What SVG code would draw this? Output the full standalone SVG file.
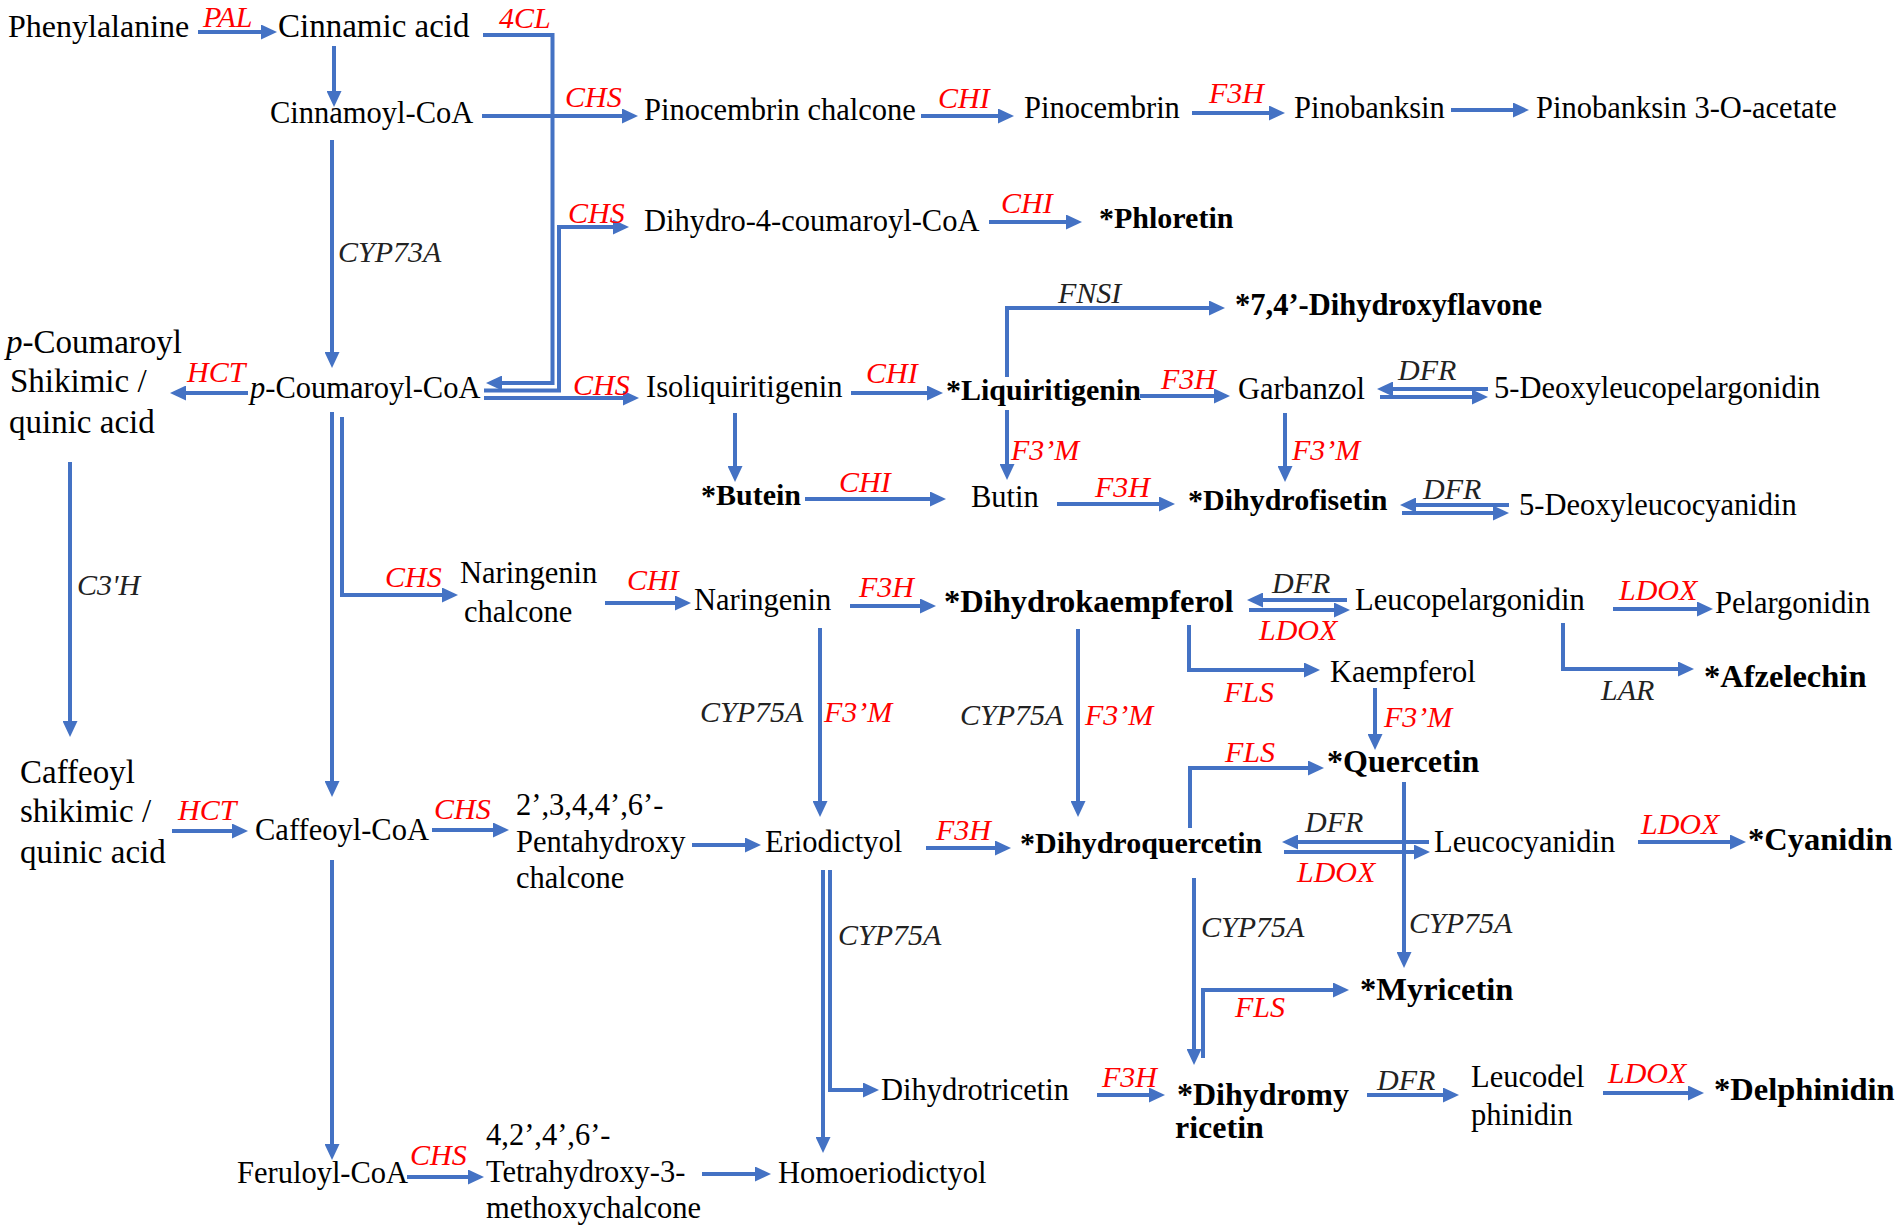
<svg xmlns="http://www.w3.org/2000/svg" width="1902" height="1230" viewBox="0 0 1902 1230">
<style>
text{font-family:"Liberation Serif","Times New Roman",serif;font-size:30.5px;fill:#000}
.b{font-weight:bold;font-size:30px}
.B{font-weight:bold;font-size:32.5px}
.L{font-size:33px}
.e{font-style:italic;font-size:30px}
.r{fill:#FF0000}
.k{fill:#222}
.c{fill:none;stroke:#4472C4;stroke-width:4;marker-end:url(#ah)}
</style>
<defs>
<marker id="ah" viewBox="0 0 16 15" refX="8" refY="7.5" markerWidth="16" markerHeight="15" markerUnits="userSpaceOnUse" orient="auto">
<path d="M0,0 L16,7.5 L0,15 Z" fill="#4472C4"/>
</marker>
</defs>
<rect width="1902" height="1230" fill="#fff"/>

<g id="connectors">
<path class="c" d="M198,32 H269"/>
<path class="c" d="M334,46 V99"/>
<path class="c" d="M332,140 V360"/>
<path class="c" d="M248,393 H178"/>
<path class="c" d="M483,35 H552.5 V383 H494"/>
<path class="c" d="M482,116 H630"/>
<path class="c" d="M484,390.5 H559 V227 H621"/>
<path class="c" d="M484,398 H631"/>
<path class="c" d="M921,116 H1006"/>
<path class="c" d="M1192,113 H1277"/>
<path class="c" d="M1451,110 H1521"/>
<path class="c" d="M989,222 H1074"/>
<path class="c" d="M1007,377 V308 H1217"/>
<path class="c" d="M851,393 H935"/>
<path class="c" d="M1140,396 H1222"/>
<path class="c" d="M1488,389 H1385"/>
<path class="c" d="M1380,397 H1480"/>
<path class="c" d="M735,413 V474"/>
<path class="c" d="M1007,410 V472"/>
<path class="c" d="M1285,413 V474"/>
<path class="c" d="M805,499 H938"/>
<path class="c" d="M1057,504 H1167"/>
<path class="c" d="M1509,505 H1408"/>
<path class="c" d="M1402,513 H1501"/>
<path class="c" d="M332,412 V789"/>
<path class="c" d="M342,417 V595 H450"/>
<path class="c" d="M70,462 V729"/>
<path class="c" d="M605,603 H683"/>
<path class="c" d="M850,606 H928"/>
<path class="c" d="M820,628 V809"/>
<path class="c" d="M1347,600 H1255"/>
<path class="c" d="M1249,610 H1342"/>
<path class="c" d="M1613,609 H1705"/>
<path class="c" d="M1563,623 V669 H1686"/>
<path class="c" d="M1189,625 V670 H1312"/>
<path class="c" d="M1078,629 V809"/>
<path class="c" d="M1375,688 V742"/>
<path class="c" d="M1190,828 V768 H1316"/>
<path class="c" d="M1404,782 V960"/>
<path class="c" d="M926,848 H1003"/>
<path class="c" d="M1429,842 H1290"/>
<path class="c" d="M1284,852 H1422"/>
<path class="c" d="M1194,878 V1057"/>
<path class="c" d="M1203,1058 V990 H1341"/>
<path class="c" d="M1638,842 H1738"/>
<path class="c" d="M172,831 H240"/>
<path class="c" d="M432,830 H501"/>
<path class="c" d="M692,845 H753"/>
<path class="c" d="M332,860 V1152"/>
<path class="c" d="M823,870 V1145"/>
<path class="c" d="M830,870 V1090 H871"/>
<path class="c" d="M1097,1095 H1157"/>
<path class="c" d="M1367,1095 H1451"/>
<path class="c" d="M1603,1093 H1696"/>
<path class="c" d="M407,1177 H476"/>
<path class="c" d="M702,1174 H763"/>
</g>

<g id="enzymes">
<text class="e r" x="203" y="27">PAL</text>
<text class="e r" x="499" y="28">4CL</text>
<text class="e r" x="565" y="107">CHS</text>
<text class="e r" x="568" y="223">CHS</text>
<text class="e r" x="573" y="395">CHS</text>
<text class="e r" x="866" y="383">CHI</text>
<text class="e r" x="938" y="108">CHI</text>
<text class="e r" x="1209" y="103">F3H</text>
<text class="e r" x="1001" y="213">CHI</text>
<text class="e r" x="187" y="382">HCT</text>
<text class="e r" x="1161" y="389">F3H</text>
<text class="e r" x="1011" y="460">F3’M</text>
<text class="e r" x="1292" y="460">F3’M</text>
<text class="e r" x="839" y="492">CHI</text>
<text class="e r" x="1095" y="497">F3H</text>
<text class="e r" x="385" y="587">CHS</text>
<text class="e r" x="627" y="590">CHI</text>
<text class="e r" x="859" y="597">F3H</text>
<text class="e r" x="1259" y="640">LDOX</text>
<text class="e r" x="1619" y="600">LDOX</text>
<text class="e r" x="1224" y="702">FLS</text>
<text class="e r" x="824" y="722">F3’M</text>
<text class="e r" x="1085" y="725">F3’M</text>
<text class="e r" x="1384" y="727">F3’M</text>
<text class="e r" x="1225" y="762">FLS</text>
<text class="e r" x="178" y="820">HCT</text>
<text class="e r" x="434" y="819">CHS</text>
<text class="e r" x="936" y="840">F3H</text>
<text class="e r" x="1297" y="882">LDOX</text>
<text class="e r" x="1641" y="834">LDOX</text>
<text class="e r" x="1235" y="1017">FLS</text>
<text class="e r" x="1102" y="1087">F3H</text>
<text class="e r" x="1608" y="1083">LDOX</text>
<text class="e r" x="410" y="1165">CHS</text>
<text class="e k" x="338" y="262">CYP73A</text>
<text class="e k" x="1058" y="303">FNSI</text>
<text class="e k" x="1398" y="380">DFR</text>
<text class="e k" x="1423" y="499">DFR</text>
<text class="e k" x="77" y="595">C3'H</text>
<text class="e k" x="1272" y="593">DFR</text>
<text class="e k" x="1601" y="700">LAR</text>
<text class="e k" x="700" y="722">CYP75A</text>
<text class="e k" x="960" y="725">CYP75A</text>
<text class="e k" x="1305" y="832">DFR</text>
<text class="e k" x="1201" y="937">CYP75A</text>
<text class="e k" x="1409" y="933">CYP75A</text>
<text class="e k" x="838" y="945">CYP75A</text>
<text class="e k" x="1377" y="1090">DFR</text>
</g>

<g id="n-phenylalanine"><text x="8" y="37" style="font-size:32px">Phenylalanine</text></g>
<g id="n-cinnamic-acid"><text x="278" y="37" class="L">Cinnamic acid</text></g>
<g id="n-cinnamoyl-coa"><text x="270" y="123">Cinnamoyl-CoA</text></g>
<g id="n-p-coumaroyl-coa"><text x="250" y="398"><tspan font-style="italic">p</tspan>-Coumaroyl-CoA</text></g>
<g id="n-p-coumaroyl-shikimic"><text class="L" x="6" y="353"><tspan font-style="italic">p</tspan>-Coumaroyl</text><text class="L" x="10" y="392">Shikimic /</text><text class="L" x="9" y="433">quinic acid</text></g>
<g id="n-caffeoyl-shikimic"><text class="L" x="20" y="783">Caffeoyl</text><text class="L" x="20" y="822">shikimic /</text><text class="L" x="20" y="863">quinic acid</text></g>
<g id="n-pinocembrin-chalcone"><text x="644" y="120">Pinocembrin chalcone</text></g>
<g id="n-pinocembrin"><text x="1024" y="118">Pinocembrin</text></g>
<g id="n-pinobanksin"><text x="1294" y="118">Pinobanksin</text></g>
<g id="n-pinobanksin-acetate"><text x="1536" y="118">Pinobanksin 3-O-acetate</text></g>
<g id="n-dihydro-4-coumaroyl-coa"><text x="644" y="231">Dihydro-4-coumaroyl-CoA</text></g>
<g id="n-phloretin"><text class="b" x="1099" y="228">*Phloretin</text></g>
<g id="n-dihydroxyflavone"><text class="b" x="1235" y="315" style="font-size:30.5px">*7,4’-Dihydroxyflavone</text></g>
<g id="n-isoliquiritigenin"><text x="646" y="397">Isoliquiritigenin</text></g>
<g id="n-liquiritigenin"><text class="b" x="946" y="400">*Liquiritigenin</text></g>
<g id="n-garbanzol"><text x="1238" y="399">Garbanzol</text></g>
<g id="n-5-deoxyleucopelargonidin"><text x="1494" y="398">5-Deoxyleucopelargonidin</text></g>
<g id="n-butein"><text class="b" x="701" y="505">*Butein</text></g>
<g id="n-butin"><text x="971" y="507">Butin</text></g>
<g id="n-dihydrofisetin"><text class="b" x="1188" y="510">*Dihydrofisetin</text></g>
<g id="n-5-deoxyleucocyanidin"><text x="1519" y="515">5-Deoxyleucocyanidin</text></g>
<g id="n-naringenin-chalcone"><text x="460" y="583">Naringenin</text><text x="464" y="622">chalcone</text></g>
<g id="n-naringenin"><text x="694" y="610">Naringenin</text></g>
<g id="n-dihydrokaempferol"><text class="B" x="944" y="612">*Dihydrokaempferol</text></g>
<g id="n-leucopelargonidin"><text x="1355" y="610">Leucopelargonidin</text></g>
<g id="n-pelargonidin"><text x="1715" y="613">Pelargonidin</text></g>
<g id="n-afzelechin"><text class="B" x="1704" y="687">*Afzelechin</text></g>
<g id="n-kaempferol"><text x="1330" y="682">Kaempferol</text></g>
<g id="n-quercetin"><text class="B" x="1327" y="772" style="font-size:32px">*Quercetin</text></g>
<g id="n-caffeoyl-coa"><text x="255" y="840">Caffeoyl-CoA</text></g>
<g id="n-pentahydroxychalcone"><text x="516" y="815">2’,3,4,4’,6’-</text><text x="516" y="852">Pentahydroxy</text><text x="516" y="888">chalcone</text></g>
<g id="n-eriodictyol"><text x="765" y="852">Eriodictyol</text></g>
<g id="n-dihydroquercetin"><text class="b" x="1020" y="853">*Dihydroquercetin</text></g>
<g id="n-leucocyanidin"><text x="1434" y="852">Leucocyanidin</text></g>
<g id="n-cyanidin"><text class="B" x="1748" y="850">*Cyanidin</text></g>
<g id="n-myricetin"><text class="B" x="1360" y="1000">*Myricetin</text></g>
<g id="n-dihydrotricetin"><text x="881" y="1100">Dihydrotricetin</text></g>
<g id="n-dihydromyricetin"><text class="B" x="1177" y="1105" style="font-size:32px">*Dihydromy</text><text class="B" x="1175" y="1138" style="font-size:32px">ricetin</text></g>
<g id="n-leucodelphinidin"><text x="1471" y="1087">Leucodel</text><text x="1471" y="1125">phinidin</text></g>
<g id="n-delphinidin"><text class="B" x="1714" y="1100">*Delphinidin</text></g>
<g id="n-feruloyl-coa"><text x="237" y="1183">Feruloyl-CoA</text></g>
<g id="n-tetrahydroxychalcone"><text x="486" y="1145">4,2’,4’,6’-</text><text x="486" y="1182">Tetrahydroxy-3-</text><text x="486" y="1218">methoxychalcone</text></g>
<g id="n-homoeriodictyol"><text x="778" y="1183">Homoeriodictyol</text></g>
</svg>
